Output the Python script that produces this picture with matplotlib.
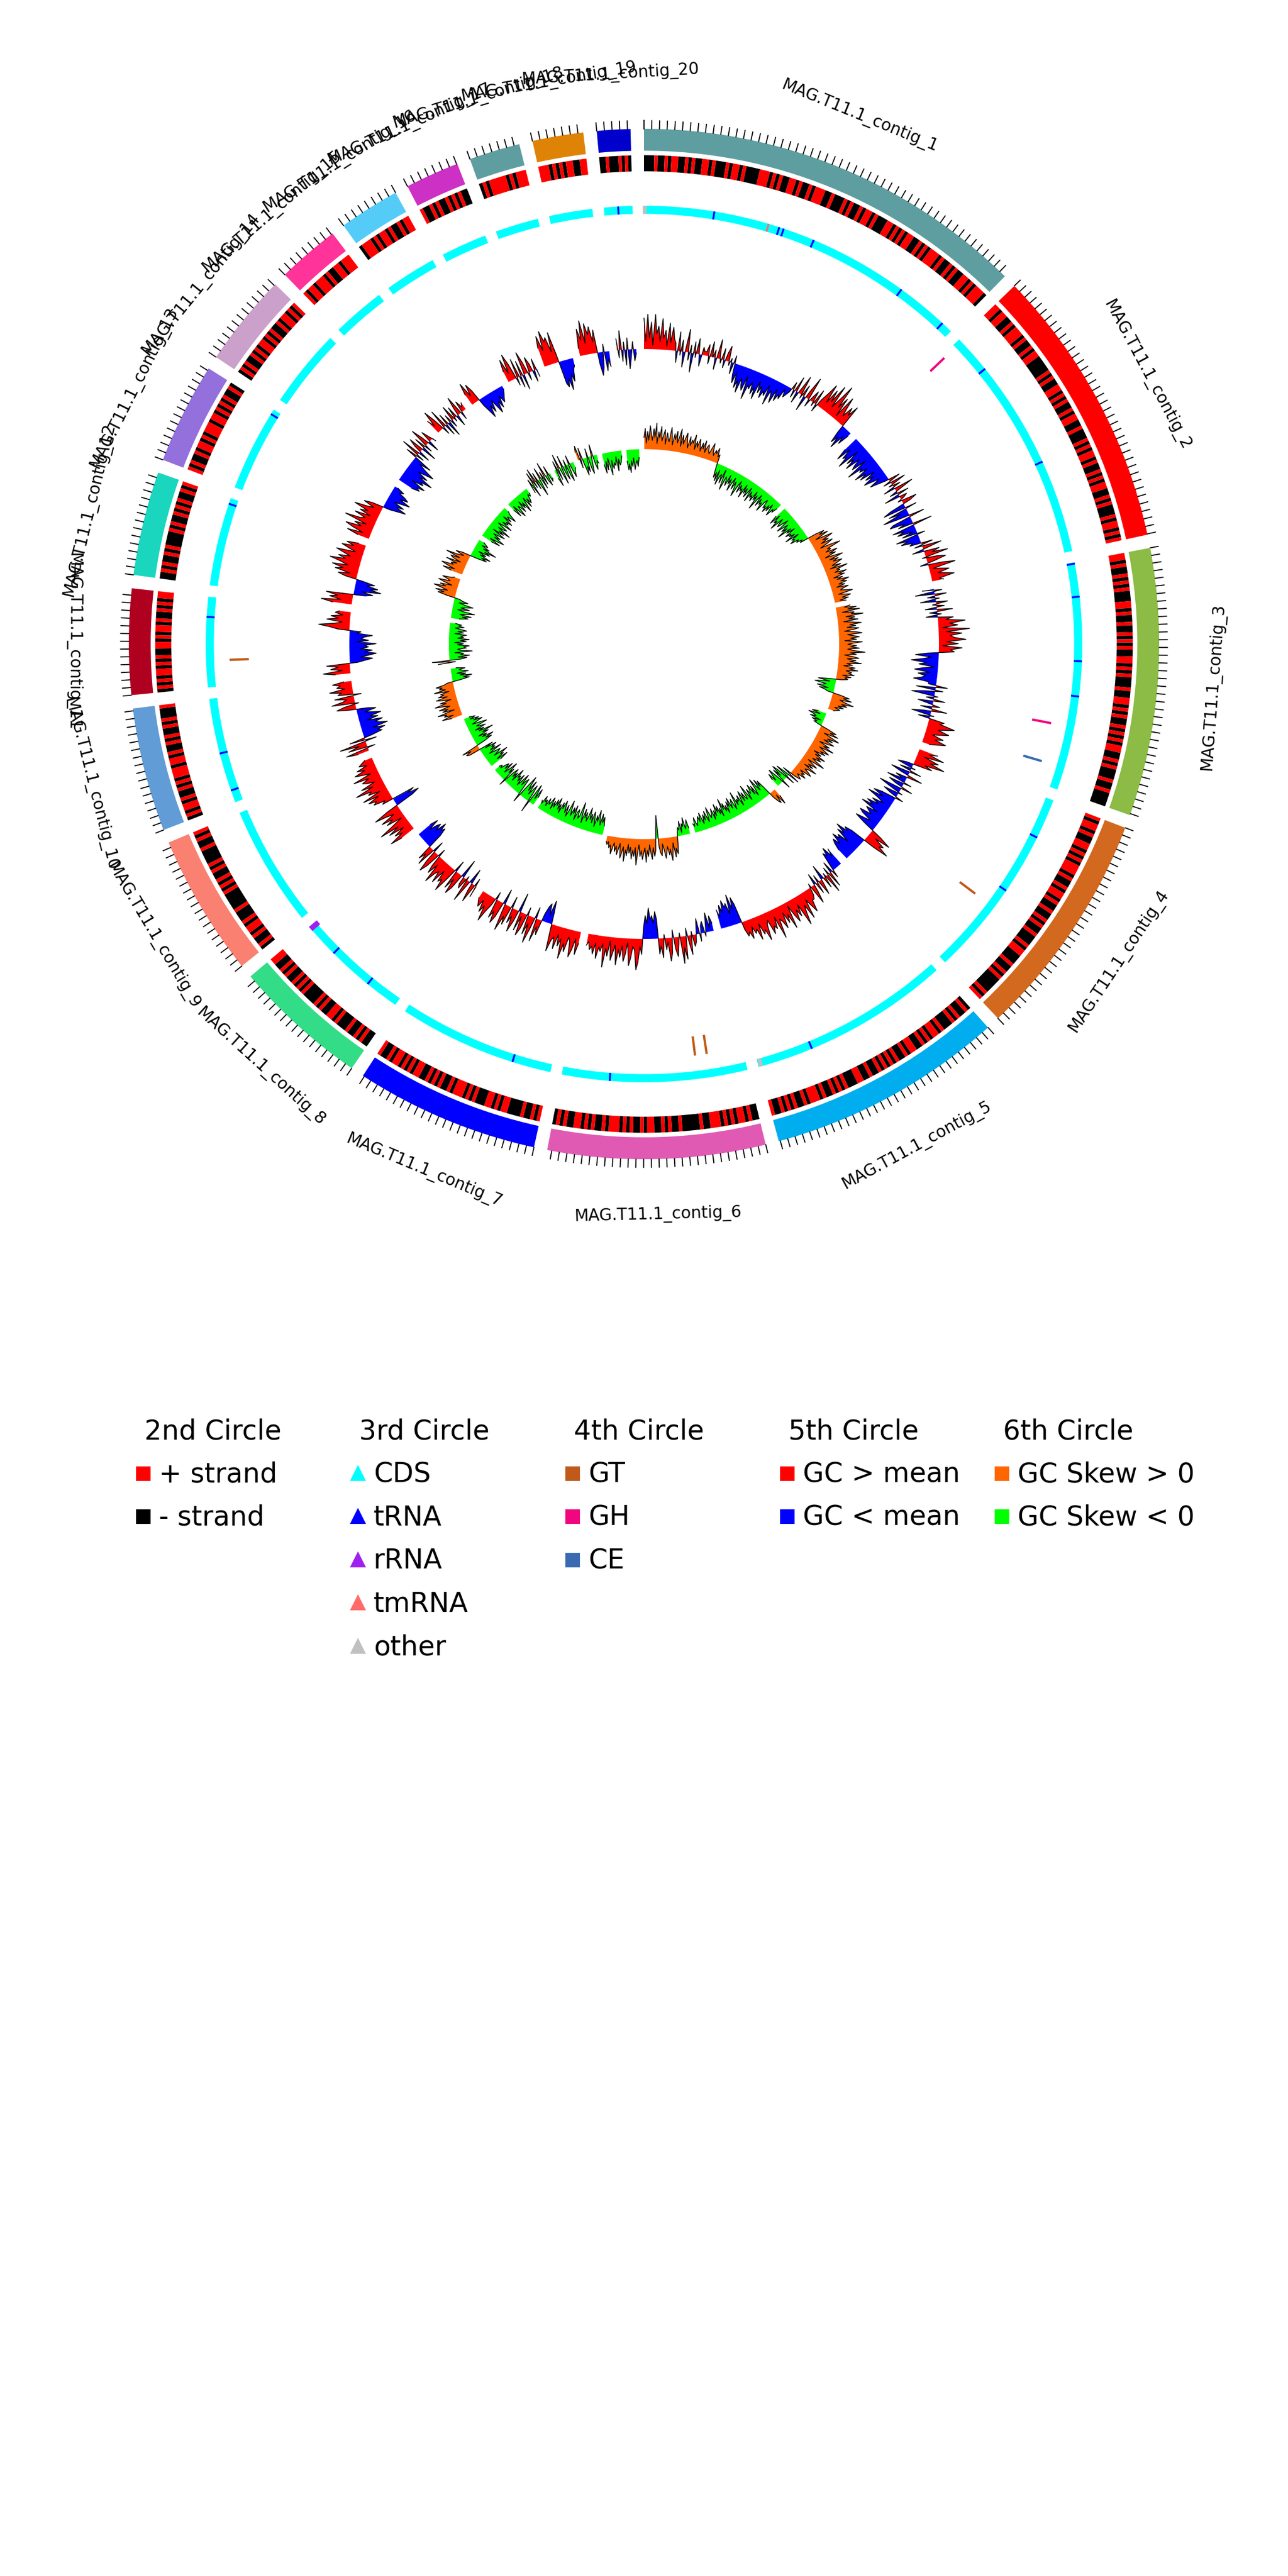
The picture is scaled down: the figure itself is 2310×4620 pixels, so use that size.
import numpy as np
import matplotlib.pyplot as plt
from itertools import groupby

plt.rcParams['font.family'] = ['DejaVu Sans']

# ---- contigs (kb) ----
contig_names = ['MAG.T11.1_contig_%d' % i for i in range(1, 21)]
contig_kb = [519, 371, 352, 300, 312, 286, 242, 178, 187, 163,
             139, 137, 133, 122, 82, 80, 71, 67, 67, 44]
contig_colors = ['#5F9EA0', '#FF0000', '#8CBB46', '#D2691E', '#00AEEF',
                 '#E05AB4', '#0000FF', '#33DD88', '#FA8072', '#619CD6',
                 '#B00020', '#1AD6BE', '#9370DB', '#CBA0CB', '#FF3399',
                 '#55CCF7', '#CD30C4', '#5F9EA0', '#DF8307', '#0000CD']

# 2nd circle: gene strand along each contig
strand = [
    "---+--+-++--+-+--++-+---+-++-+----+++-+-+--++-+--+-+++--+---+-+--+-++-+---++-+-+-++--+-+-+++-+--+-+--++-+-+++-",
    "++-++--+-+++-+--+-++-----+-+--++-+-+--+-++--+---+-+-++-+--+-+-++--+-+---+-++-+-+",
    "++-+--+-+-+---++-+--+--+-+-+--++-+-+---+--++-+-+--+-+-+-++--+-+---+--+----",
    "+-++-+--++-+-+-+++-+--+-++-+--+--+-+--+---+-++---+--+-+-----+-+",
    "-+--+-+---+-++-+-+--++-+--+-+-+-+--+--++---+-+-+--+-+++-+--+-+-+--+",
    "--+-++-+-+-+++--+-----+--+-+--++-+--+-+-+++-+--+-+-++--+-+-",
    "+-+--+----++-+-++---+-+-+++-+--+-+-+--++-+-+-++-+--+",
    "--+-+--+---+-++--+-+----+-+-+--+-+--++",
    "-+--+-++-+---+-----+-+-+--+-+----+--+-+",
    "-+-++-+--+-+-+++-++-+--+-+--+-+---+",
    "-+-+-++-+-+--++-+-++-+--+-+-++",
    "--+-+--+-+----+-+--+-+-+--+-+",
    "+-+--+-++-+-+++-++-+-+-+--+-",
    "-+-+--+-+-++-+-+--+-++-+-+",
    "+-++-+++-+--++-+++",
    "-+++-+-++-+--+-++",
    "+--+-+--+-+-+--",
    "-+-+++++-+-+++",
    "+++-+-+-++--++",
    "--+---+-+-",
]

# 5th circle: GC content deviation from mean (x10)
gc_content = [
    [8, 2, 9, 3, 7, 1, 9, 4, 6, 2, 8, 3, 5, 1, 7, 2, 6, 3,
     2, -3, 5, -1, 3, -4, 1, 6, -2, 2, -5, 3, -1, 4, 0, -3, 2, 1,
     1, 3, -2, 4, 0, 2, -3, 5, 1, -1, 3, -2, 2, 4, -1, 1, -3, 2,
     -3, -5, -2, -6, -4, -7, -3, -5, -6, -2, -8, -4, -5, -3, -6, -4, -7, -2, -5, -3, -6, -4,
     -5, -2, -7, -3, -4, -6, -2, -5, -3, -4, -1, -3, -2, -1,
     2, -2, 4, -3, 1, 5, -1, 3, -4, 2, 6, -2, 1, 3, -1, 4, -2, 2,
     4, 7, 2, 6, 3, 8, 2, 5, 9, 3, 6, 1, 7, 4, 2, 5, 3, 6, -2, -5, -3, -6, -2, -4, -1],
    [-4, -7, -3, -6, -5, -8, -2, -6, -4, -7, -3, -5, -6, -2, -8, -4, -5, -3, -7, -4, -6, -2,
     -5, -3, -6, -4, -2, -5, -3, -1, 3, -2, 4, -1, 2, -3, 5, 1, -2, 3, -4, 2, 1, -1, 4, 2,
     -4, -6, 3, -5, -2, -7, -3, 4, -5, -6, -2, -4, 5, -6, -3, -5, -1, -4, 2, -6, -3, -5, -2, -3,
     3, -2, 5, 1, -3, 4, 2, 6, -1, 3, 5, 2, -2, 4, 7, 1, 3, 5, 2, 4, 6, 2, 3],
    [-3, 2, -5, 3, -2, 1, -4, 3, -1, 2, -3, 4, -2, 1, -3, 4, 2, 7, 3, 5, 1, 8, 2, 6, 3, 4, 7,
     2, 5, 1, 6, 3, 4, -3, -6, -2, -4, -7, -3, -5, -1, -4, -6, -2, -5, -3, -4, -6, -2,
     -2, 3, -5, 2, -3, -6, 1, -2, 3, -4, -1, 2, -3, 4, -2, -5, 1, -3,
     4, 3, 7, 5, 3, 6, 4, 2, 5, 3, 6, 4, 2],
    [5, 3, 7, 2, 6, 4, 8, 3, 5, -2, -4, 1, -3, 3, -5, -2, 4, -3, -1, -5, 2, -4, -2, 3, -6, -3,
     1, -4, -2, 2, -4, -6, -3, -7, -4, -2, -5, -3, -6, -4, -7, -2, -5, -4, -3, -6, -5, -2, -4,
     -6, -3, 3, 6, 2, 5, 4, 7, 3, -4, -6, -5, -8, -5, -7, -3, -6, -5, -7, -4, -6, -5, -3],
    [-5, -3, -6, -4, -5, -2, 2, -3, 4, -2, 5, -1, 3, -4, 1, 4, -2, 3, -3, 2, 5, -1, 2, 3,
     3, 6, 4, 2, 7, 3, 5, 8, 2, 5, 3, 6, 4, 1, 7, 3, 5, 2, 6, 4, 3, 8, 2, 5, 4, 6, 2, 3, 7, 4,
     5, 2, 6, 3, 4, 2, 5, 3, 4, 2, -5, -7, -4, -8, -3, -6, -5, -7, -4, -6, -3, -5],
    [-2, -4, -1, -5, -2, 1, -3, -2, 2, -4, -1, 2, 3, -1, 5, 2, -2, 6, 3, 7, -1, 2, 5, 3, -2,
     4, 6, 1, 3, -1, 5, 2, 4, -5, -7, -4, -6, -5, -8, -4, -6, -3,
     4, 2, 6, 8, 3, 2, 5, 7, 1, 4, 6, 2, 5, 3, 7, 2, 4, 6, 1, 5, 3, 8, 2, 4, 3, 6, 2, 5, 3, 4,
     2, 3],
    [3, 6, 2, 5, 7, 3, 2, 6, 4, 8, 3, 5, 2, 6, 3, 4, 7, 2, -3, -6, -2, -5, -4, -2,
     4, 2, 6, -3, 3, 7, 2, 5, -2, 4, 6, 1, 5, -5, 3, 6, 2, 4, -3, 5, 3, 7, 2, -4, 4, 6, 3, 5,
     -2, 2, 4, 7, 3, 5, 2, 4, 3, 2],
    [3, -2, 5, 2, -4, 1, 6, -1, 3, 2, -5, 4, 6, 2, 5, -3, 3, 7, 4, 5, 2, 6, 3, 4, 7, 2, 5, 3,
     -2, 4, 6, 3, -3, 5, 2, 4, -4, -6, -5, -7, -4, -6, -5, -3, -6, -4],
    [4, 7, 3, 5, 2, 6, 3, 8, 4, 1, 5, 3, 6, 2, 4, 7, 3, -5, -7, -4, -6, 3, 2, 5, 4, 6, 3, 7,
     2, 5, 4, 8, 3, 6, 2, 4, 5, 3, 7, 2, 4, 6, 3, 5, 2, 4, 3, 2],
    [3, 6, -2, 5, 2, 7, -3, 4, -2, -5, -4, -6, -3, -7, -5, -4, -6, -2, -5, -3, -6, -4, -2,
     -5, -3, 2, 5, 3, -1, 6, 3, 2, 5, -2, 4, 3, 6, 2, 4, 3, 5, 2],
    [4, 7, 2, 5, 3, 6, -2, -4, -6, -3, -5, -7, -4, -6, -3, -5, -4, -7, -2, -5, -3, -4, -6, -2,
     -3, 3, 5, 8, 4, 2, 6, 3, 5, 2, 4, 3],
    [5, 8, 3, 6, 4, 7, -3, -5, -2, -7, -4, -6, -3, -5, -2, 3, 5, 2, 6, 4, 7, 3, 5, 8, 4, 6, 3,
     5, 7, 2, 4, 6, 3, 5, 2],
    [3, 6, 2, 5, 7, 3, 5, 2, 8, 4, 3, 6, 2, 5, 3, 7, 4, 2, 5, 3, -2, -4, -6, -3, -5, -2, -4,
     -6, -3, -5, -4, -2, -3, -1],
    [-4, -6, -5, -7, -3, -6, -5, -8, -4, -6, -3, -5, -7, -4, -2, -5, 3, -2, 5, -3, 2, 4, -4,
     3, -2, 5, 2, -3, 3, 1, -1],
    [4, 2, 6, 3, -2, 5, -3, 3, -4, 2, -2, 4, -1, 3, -3, 2, 5, -2, 3, 1, 2],
    [3, 6, 2, 5, 3, -2, -4, -6, -3, -5, -2, -4, -6, -3, -5, -2, -4, -3, -2, -1],
    [3, 6, 2, 7, 4, -2, 5, -3, 4, -4, 6, 3, -2, 4, 2, -3, 3, -2],
    [5, 8, 4, 9, 6, 7, 3, 8, 2, -6, -7, -5, -8, -4, -6, -3, -2],
    [2, 7, 4, 9, 3, 8, 5, 7, 3, 6, -3, -6, -4, 2, -5, -2, -4],
    [3, -2, 5, -3, 2, -4, 3, -5, -2, 2, -3, -1],
]

# 6th circle: GC skew (x10)
gc_skew = [
    [4, 7, 2, 6, 3, 8, 5, 3, 7, 4, 9, 2, 6, 4, 8, 3, 5, 7, 2, 6, 4, 3, 8, 5, 2, 6, 4, 7, 3, 5,
     8, 2, 6, 3, 5, 7, 4, 2, 6, 3, 5, 4, 7, 2, 5, 3, 6, 4, 2, 5, 3, 6, 2, 4, 5, 3, 2, 4, 6, 3,
     2, 4, 3, 5, 2, 3,
     -2, -5, -3, -6, -2, -7, -4, -3, -6, -1, -5, -8, -3, -4, -6, -2, -5, -3, -7, -4, -2, -6,
     -3, -5, -8, -4, -2, -6, -3, -5, -4, -7, -2, -5, -3, -6, -4, -2, -7, -3, -5, -4, -6, -2,
     -5, -3, -8, -4, -2, -6, -3, -5, -4, -7, -3, -2, -5, -4, -6, -3, -5, -2, -4, -6, -3, -4, -2],
    [-4, -7, -3, -6, -5, -8, -3, -5, -6, -4, -2, -7, -5, -3, -6, -4, -8, -3, -5, -2, -6, -4,
     -5, -3, -7, -2, -5, -4, -6, -3, -4, -2, -3,
     3, 6, 4, 7, 2, 5, 8, 4, 6, 3, 7, 5, 2, 6, 9, 4, 5, 3, 7, 4, 6, 2, 5, 8, 3, 6, 4, 7, 5, 3,
     6, 2, 8, 4, 5, 3, 7, 4, 6, 2, 5, 3, 7, 4, 6, 3, 5, 2, 6, 4, 3, 5, 7, 2, 4, 6, 3, 5, 2, 4],
    [5, 3, 7, 4, 8, 2, 6, 5, 9, 3, 6, 4, 7, 2, 5, 8, 4, 6, 3, 7, 5, 2, 6, 8, 3, 5, 7, 4, 6, 2,
     8, 5, 3, 6, 4, 7, 3, 5, 9, 4, 6, 2, 5, 7, 3, 6, 4, 8, 3, 5, 2, 6, 4, 7, 3, 5, 4, 6, 2, 5,
     3, 4, 2, -3, -6, -2, -5, -7, -3, -4, -6, -2, -5, -3, -2,
     3, 6, 4, 7, 3, 5, 8, 4, 6, 3, 5, 2, 4, 3, 2],
    [-3, -5, -2, -6, -4, -3, -5, -1, -4, -2, -3, -1,
     3, 6, 4, 7, 2, 5, 8, 4, 6, 3, 7, 5, 2, 6, 4, 8, 3, 5, 7, 4, 6, 2, 5, 3, 7, 4, 6, 3, 5, 8,
     2, 4, 6, 3, 5, 2, 7, 4, 3, 5, 6, 2, 4, 3, 5, 2, 3, 4,
     2, -3, 4, -2, -5, 3, -4, -6, -2, -5, 3, -3, -6, -4, -2, -5, -3],
    [3, 6, 2, 5, 4, 2,
     -3, -6, -4, -7, -3, -5, -8, -4, -2, -6, -3, -7, -5, -4, -6, -2, -5, -8, -3, -4, -6, -3,
     -7, -5, -2, -6, -4, -5, -3, -8, -4, -2, -6, -5, -3, -7, -4, -6, -2, -5, -3, -6, -4, -8,
     -2, -5, -3, -6, -4, -7, -3, -5, -2, -6, -4, -3, -5, -7, -2, -4, -6, -3, -5, -2, -4, -6,
     -3, -5, -4, -2, -3, -5, -2, -3],
    [-2, -5, -3, -2, -6, -3, -4, -1, -5, -2, -3, -1,
     3, 6, 4, 7, 2, 5, 8, 4, 6, 3, 5, 7, 4, 2, 6, 5, 3, -8, -3, 4, 6, 3, 7, 5, 2, 6, 4, 8, 3,
     5, 7, 4, 6, 2, 5, 9, 3, 6, 4, 7, 3, 5, 2, 6, 4, 8, 3, 5, 7, 2, 4, 6, 3, 5, 2, 4, 6, 3, 4,
     2, 3, 2],
    [-3, -6, -4, -7, -3, -5, -8, -4, -6, -2, -5, -7, -3, -6, -4, -8, -5, -3, -6, -4, -7, -2,
     -5, -9, -4, -3, -6, -5, -2, -7, -4, -6, -3, -5, -8, -4, -2, -6, -3, -5, -7, -4, -6, -2,
     -5, -3, -7, -4, -6, -3, -5, -2, -6, -4, -3, -5, -2, -4, -3, -5, -2, -3],
    [-3, -6, -2, -5, -7, 4, -3, -6, -4, -2, -7, -3, -5, -8, -4, 3, -2, -6, -5, -3, -7, -4, -2,
     -6, -3, -5, -4, -7, -2, -5, -3, -6, -4, 2, -5, -3, -7, -4, -2, -6, -3, -5, -4, -2, -3, -2],
    [-4, -7, -3, -6, -5, -8, -3, -5, -6, -4, -2, -7, -3, -5, -4, -6, -2, -5, 4, 5, 3, 6, -3,
     -6, -4, -7, -3, -5, -2, -6, -4, -8, -3, -5, -2, -6, -4, -3, -7, -5, -2, -4, -6, -3, -5,
     -2, -4, -2],
    [4, 7, 3, 6, 5, 8, 2, 6, 4, 7, 3, 5, 8, 4, 6, 2, 5, 7, 3, 6, 4, 5, 2, 7, 3, 5, 4, 6, 3, 2,
     -3, -6, -4, -7, -3, -5, -2, -6, -4, -3, -5, -2],
    [4, -2, 6, -4, -6, -3, -7, -4, -5, -2, -8, -4, -3, -6, -5, -7, -3, -5, -2, -6, -4, -7, -3,
     -5, -4, -6, -2, -5, -3, -6, -4, -2, -5, -3, -4, -2],
    [-3, -6, -4, -7, -3, -5, -8, -4, -2, -6, -3, -5, -7, -4, -2, -5, -3, -2,
     3, 6, 4, 7, 3, 5, 8, 4, 6, 2, 5, 7, 3, 4, 6, 3, 2],
    [4, 7, 3, 6, 8, 4, 5, 3, 7, 2, 5, 6, 3, 8, 4, 2, 5, 3,
     -3, -6, -4, -7, -3, -5, -2, -6, -4, -8, -3, -5, -2, -4, -3, -2],
    [-4, -7, -3, -6, -8, -4, -6, -3, -5, -7, -2, -6, -4, -8, -3, -5, -6, -2, -4, -7, -3, -5,
     -4, -6, -2, -5, -3, -4, -6, -3, -2],
    [-3, -6, -2, -5, -7, -3, -4, -6, -2, -5, -3, -7, -4, -2, -6, -3, -5, -4, -2, -3, -2],
    [-3, 2, -5, 4, -2, 5, -3, 3, -6, -2, 4, -4, 2, -3, 5, -2, -4, 3, -3, -2],
    [-3, -6, 3, -4, 5, -2, -6, 4, -3, -5, 2, -4, -6, 3, -2, -5, -3, -2],
    [3, 5, -3, 4, -2, -6, -3, -5, 3, -4, -6, -2, 4, -3, -5, -2, -3],
    [-4, -7, -3, -6, -2, -5, -8, -3, -6, -4, -5, -2, -7, -3, -5, -4, -2],
    [-4, -7, -5, -8, -4, -6, -3, -7, -5, -4, -6, -3],
]

# 3rd circle: non-CDS features (contig index, position kb)
trna = [(0, 108), (0, 210), (0, 217), (0, 266), (0, 420), (0, 501), (1, 60), (1, 227),
        (2, 2), (2, 53), (2, 152), (2, 206), (3, 62), (3, 156), (4, 226), (5, 212),
        (6, 60), (7, 53), (7, 123), (9, 19), (9, 78), (10, 108), (11, 128), (12, 125),
        (19, 22)]
rrna = [(7, 174)]
tmrna = [(0, 193)]
other = [(0, 1), (4, 308)]

# 4th circle: CAZy hits
cazy_gt = [(3, 188), (5, 58), (5, 77), (10, 41)]
cazy_gh = [(1, 5), (2, 254)]
cazy_ce = [(2, 317)]

GAP = 1.5
deg_per_kb = (360 - GAP * len(contig_kb)) / sum(contig_kb)
starts = []
a = 0.0
for L in contig_kb:
    starts.append(a)
    a += L * deg_per_kb + GAP
spans = [L * deg_per_kb for L in contig_kb]


def th(i, kb):
    return np.deg2rad(starts[i] + kb * deg_per_kb)


fig = plt.figure(figsize=(7.7, 15.4), dpi=300)
ax = fig.add_axes([0, 0.5, 1, 0.5], projection='polar')
ax.set_theta_zero_location('N')
ax.set_theta_direction(-1)
ax.set_ylim(0, 100)
ax.axis('off')

for i, L in enumerate(contig_kb):
    t0 = np.deg2rad(starts[i])
    w = np.deg2rad(spans[i])
    # outer contig ring + ticks + label
    ax.bar(t0, 3.4, width=w, bottom=76.6, align='edge', color=contig_colors[i], lw=0)
    ticks = [th(i, k) for k in range(0, L + 1, 10)]
    ax.vlines(ticks, 79.95, 81.35, color='black', lw=0.45)
    mid = starts[i] + spans[i] / 2
    rot = 180 - mid if 90 < mid < 270.5 else -mid
    ax.text(np.deg2rad(mid), 88.6, contig_names[i], rotation=rot, rotation_mode='anchor',
            ha='center', va='center', fontsize=7.1)

    # strand ring
    seg = w / len(strand[i])
    k = 0
    for ch, grp in groupby(strand[i]):
        n = len(list(grp))
        ax.bar(t0 + k * seg, 2.5, width=n * seg, bottom=73.4, align='edge',
               color='#FF0000' if ch == '+' else 'black', lw=0)
        k += n

    # CDS ring
    ax.bar(t0, 1.25, width=w, bottom=66.8, align='edge', color='#00FFFF', lw=0)

    # GC content
    v = np.array(gc_content[i]) / 10
    tt = np.deg2rad(np.linspace(starts[i], starts[i] + spans[i], len(v)))
    r = 45.8 + v * 6.0
    ax.fill_between(tt, 45.8, r, where=v >= 0, interpolate=True, color='#FF0000', lw=0)
    ax.fill_between(tt, 45.8, r, where=v <= 0, interpolate=True, color='#0000FF', lw=0)
    ax.plot(tt, r, color='black', lw=0.35)

    # GC skew
    s = np.array(gc_skew[i]) / 10
    tt = np.deg2rad(np.linspace(starts[i], starts[i] + spans[i], len(s)))
    r = 30.3 + s * 4.5
    ax.fill_between(tt, 30.3, r, where=s >= 0, interpolate=True, color='#FF6600', lw=0)
    ax.fill_between(tt, 30.3, r, where=s <= 0, interpolate=True, color='#00FF00', lw=0)
    ax.plot(tt, r, color='black', lw=0.35)

ax.vlines([th(c, p) for c, p in trna], 66.8, 68.05, color='#0000FF', lw=0.8)
ax.vlines([th(c, p) for c, p in tmrna], 66.8, 68.05, color='#FF6B6B', lw=0.8)
for c, p in rrna:
    ax.bar(th(c, p), 1.6, width=np.deg2rad(0.7), bottom=66.5, color='#A020F0', lw=0)
for c, p in other:
    ax.bar(th(c, p), 1.25, width=np.deg2rad(0.5), bottom=66.8, color='#C0C0C0', lw=0)

for pts, col in [(cazy_gt, '#C05A1A'), (cazy_gh, '#F0077F'), (cazy_ce, '#3A6AB0')]:
    ax.vlines([th(c, p) for c, p in pts], 61.4, 64.4, color=col, lw=1.0)

# ---- legend (pixel coordinates of the lower half) ----
lg = fig.add_axes([0, 0, 1, 0.5])
lg.set_xlim(0, 2310)
lg.set_ylim(4620, 2310)
lg.axis('off')

legend_cols = [
    ('2nd Circle', 's', [('+ strand', '#FF0000'), ('- strand', '#000000')]),
    ('3rd Circle', '^', [('CDS', '#00FFFF'), ('tRNA', '#0000FF'), ('rRNA', '#A020F0'),
                         ('tmRNA', '#FF6B6B'), ('other', '#C0C0C0')]),
    ('4th Circle', 's', [('GT', '#C05A1A'), ('GH', '#F0077F'), ('CE', '#3A6AB0')]),
    ('5th Circle', 's', [('GC > mean', '#FF0000'), ('GC < mean', '#0000FF')]),
    ('6th Circle', 's', [('GC Skew > 0', '#FF6600'), ('GC Skew < 0', '#00FF00')]),
]
for j, (title, mk, items) in enumerate(legend_cols):
    x0 = 246 + 385 * j
    lg.text(x0 + 13, 2582, title, fontsize=11.7, ha='left', va='baseline')
    for n, (lab, col) in enumerate(items):
        yb = 2658.5 + 77.4 * n
        lg.plot([x0 + 11], [yb - 15.5], marker=mk, ms=5.3, color=col, ls='none')
        lg.text(x0 + 39, yb, lab, fontsize=11.7, ha='left', va='baseline')

fig.savefig('out.png', dpi=300)
